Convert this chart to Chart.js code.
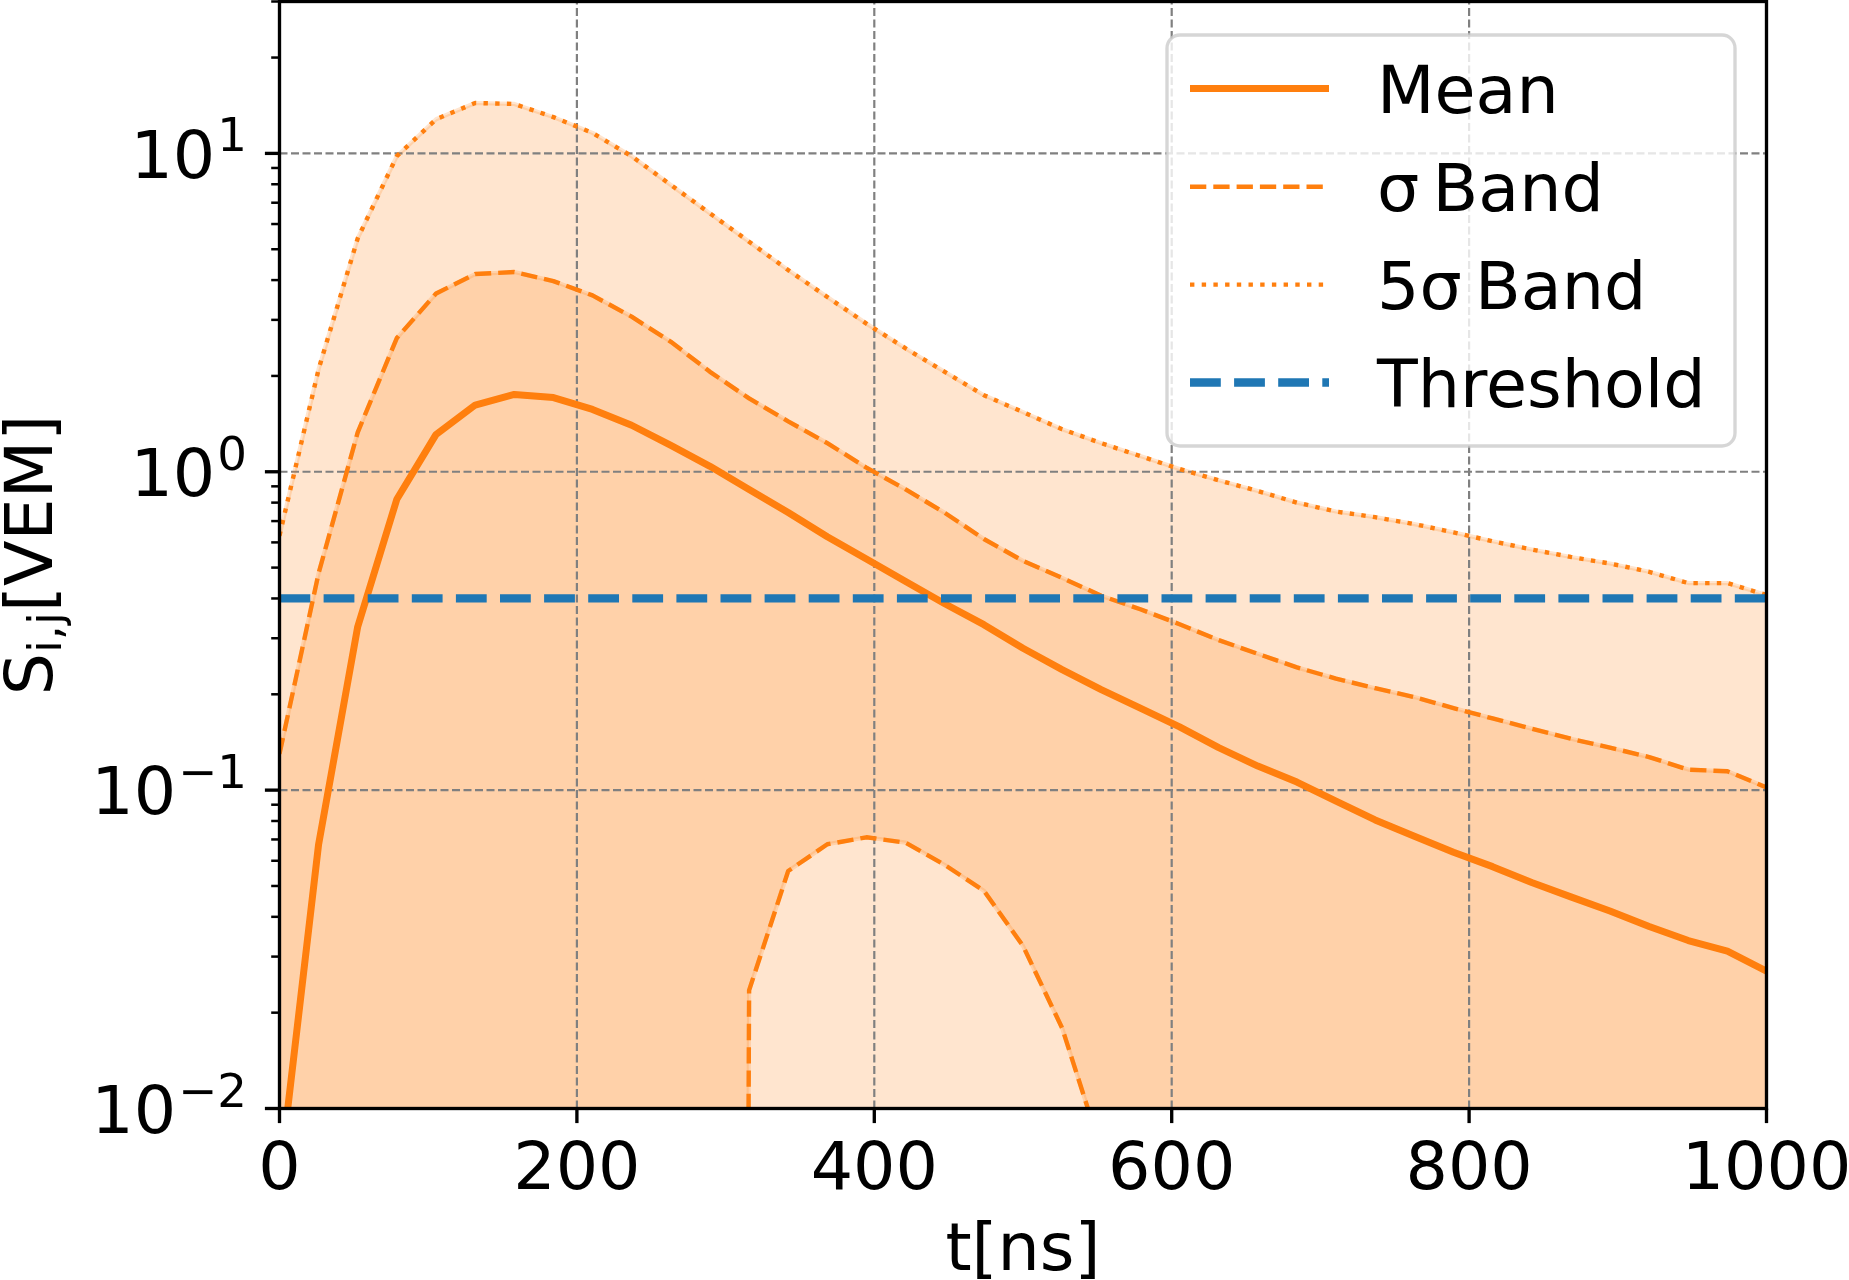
<!DOCTYPE html>
<html>
<head>
<meta charset="utf-8">
<title>Signal trace bands</title>
<script src="https://cdn.jsdelivr.net/npm/chart.js@4.4.1/dist/chart.umd.min.js"></script>
<style>
  html, body { margin: 0; padding: 0; background: #fff; }
  #wrap { width: 1849px; height: 1280px; }
</style>
</head>
<body>
<div id="wrap"><canvas id="trace" width="1849" height="1280"></canvas></div>
<script>
// DATA
const timeBins = [0, 26.3, 52.6, 78.9, 105.3, 131.6, 157.9, 184.2, 210.5, 236.8,
  263.2, 289.5, 315.8, 342.1, 368.4, 394.7, 421.1, 447.4, 473.7, 500,
  526.3, 552.6, 578.9, 605.3, 631.6, 657.9, 684.2, 710.5, 736.8, 763.2,
  789.5, 815.8, 842.1, 868.4, 894.7, 921.1, 947.4, 973.7, 1000];

const meanSignal = [0.006, 0.0676, 0.326, 0.82, 1.31, 1.62, 1.75, 1.71, 1.57, 1.40,
  1.21, 1.04, 0.88, 0.745, 0.625, 0.532, 0.452, 0.385, 0.331, 0.279,
  0.239, 0.207, 0.181, 0.158, 0.136, 0.119, 0.106, 0.0924, 0.0806, 0.0716,
  0.0638, 0.0575, 0.0513, 0.0462, 0.0417, 0.0373, 0.0337, 0.0312, 0.027];

const sigmaUpper = [0.13, 0.48, 1.33, 2.63, 3.63, 4.18, 4.24, 3.97, 3.58, 3.07,
  2.56, 2.06, 1.70, 1.44, 1.23, 1.03, 0.88, 0.743, 0.615, 0.525,
  0.464, 0.408, 0.37, 0.332, 0.296, 0.268, 0.243, 0.224, 0.209, 0.196,
  0.181, 0.168, 0.156, 0.145, 0.136, 0.127, 0.116, 0.1146, 0.102];

// null = mean - sigma is not positive (can't be shown on the log axis)
const sigmaLower = [null, null, null, null, null, null, null, null, null, null,
  null, null, 0.0235, 0.0557, 0.0676, 0.0711, 0.0684, 0.0582, 0.0483, 0.0324,
  0.0179, 0.0074, null, null, null, null, null, null, null, null,
  null, null, null, null, null, null, null, null, null];

const fiveSigmaUpper = [0.63, 2.1, 5.41, 9.8, 12.8, 14.4, 14.3, 13.0, 11.6, 9.8,
  7.96, 6.48, 5.28, 4.30, 3.54, 2.92, 2.44, 2.06, 1.74, 1.54,
  1.36, 1.23, 1.12, 1.02, 0.94, 0.87, 0.80, 0.75, 0.72, 0.685,
  0.645, 0.605, 0.57, 0.54, 0.515, 0.485, 0.447, 0.447, 0.41];

const threshold = 0.4;

// TICKS
const xTicks = [0, 200, 400, 600, 800, 1000];
const yDecades = [-2, -1, 0, 1];
const yMinorMantissas = [2, 3, 4, 5, 6, 7, 8, 9];
const yMin = 0.01;
const yMax = 30;

// STYLE
const ORANGE = '#ff7f0e';
const BLUE = '#1f77b4';
const BAND = 'rgba(255, 127, 14, 0.2)';
const FONT = '"DejaVu Sans", "Liberation Sans", sans-serif';
const FS = 66.7;
const SUB = FS * 0.7;
const CLIPPED = 1e-30; // like matplotlib: non-positive values drop off the bottom

const toPoints = ys => timeBins.map((t, i) => ({ x: t, y: ys[i] === null ? CLIPPED : ys[i] }));

const lineBase = { pointRadius: 0, tension: 0, clip: 0, borderJoinStyle: 'round', fill: false };

const datasets = [
  { ...lineBase, label: 'Threshold', data: timeBins.map(t => ({ x: t, y: threshold })),
    borderColor: BLUE, borderWidth: 8.3, borderDash: [30.8, 13.3] },
  { ...lineBase, label: 'Mean', data: toPoints(meanSignal),
    borderColor: ORANGE, borderWidth: 7 },
  { ...lineBase, label: 'σ\u2009Band', data: toPoints(sigmaUpper),
    borderColor: ORANGE, borderWidth: 4.4, borderDash: [16.3, 7],
    fill: 3, backgroundColor: BAND },
  { ...lineBase, label: 'σ lower', data: toPoints(sigmaLower),
    borderColor: ORANGE, borderWidth: 4.4, borderDash: [16.3, 7] },
  { ...lineBase, label: '5σ\u2009Band', data: toPoints(fiveSigmaUpper),
    borderColor: ORANGE, borderWidth: 4.4, borderDash: [4.4, 7.3],
    fill: 'start', backgroundColor: BAND },
  // pale edges of the filled bands
  { ...lineBase, label: 'edge1', data: toPoints(sigmaUpper), borderColor: BAND, borderWidth: 4.2 },
  { ...lineBase, label: 'edge2', data: toPoints(sigmaLower), borderColor: BAND, borderWidth: 4.2 },
  { ...lineBase, label: 'edge3', data: toPoints(fiveSigmaUpper), borderColor: BAND, borderWidth: 4.2 }
];

const legendOrder = [1, 2, 4, 0];

function strokeLine(ctx, x1, y1, x2, y2) {
  ctx.beginPath();
  ctx.moveTo(x1, y1);
  ctx.lineTo(x2, y2);
  ctx.stroke();
}

// GRID, AXES, LABELS, LEGEND
const axesDecor = {
  id: 'axesDecor',
  beforeDatasetsDraw(chart) {
    const { ctx, chartArea: a, scales: { x, y } } = chart;
    ctx.save();
    ctx.strokeStyle = '#808080';
    ctx.lineWidth = 2.2;
    ctx.setLineDash([8, 3.5]);
    xTicks.forEach(t => {
      const px = x.getPixelForValue(t);
      strokeLine(ctx, px, a.bottom, px, a.top);
    });
    yDecades.forEach(e => {
      const py = y.getPixelForValue(Math.pow(10, e));
      strokeLine(ctx, a.left, py, a.right, py);
    });
    ctx.restore();
  },
  afterDatasetsDraw(chart) {
    const { ctx, chartArea: a, scales: { x, y } } = chart;
    ctx.save();
    ctx.setLineDash([]);
    ctx.strokeStyle = '#000';
    ctx.fillStyle = '#000';

    // ticks
    ctx.lineWidth = 3.33;
    xTicks.forEach(t => {
      const px = x.getPixelForValue(t);
      strokeLine(ctx, px, a.bottom, px, a.bottom + 14.6);
    });
    yDecades.forEach(e => {
      const py = y.getPixelForValue(Math.pow(10, e));
      strokeLine(ctx, a.left, py, a.left - 14.6, py);
    });
    ctx.lineWidth = 2.5;
    yDecades.forEach(e => {
      yMinorMantissas.forEach(m => {
        const v = m * Math.pow(10, e);
        if (v > yMax + 1e-9) return;
        const py = y.getPixelForValue(v);
        strokeLine(ctx, a.left, py, a.left - 8.3, py);
      });
    });

    // frame
    ctx.lineWidth = 3.33;
    ctx.strokeRect(a.left, a.top, a.right - a.left, a.bottom - a.top);

    // x tick labels
    ctx.font = `${FS}px ${FONT}`;
    ctx.textAlign = 'center';
    ctx.textBaseline = 'alphabetic';
    xTicks.forEach(t => ctx.fillText(String(t), x.getPixelForValue(t), 1189));

    // y tick labels 10^e
    ctx.textAlign = 'left';
    yDecades.forEach(e => {
      const py = y.getPixelForValue(Math.pow(10, e));
      const expText = e < 0 ? '\u2212' + (-e) : String(e);
      ctx.font = `${SUB}px ${FONT}`;
      const wExp = ctx.measureText(expText).width;
      ctx.font = `${FS}px ${FONT}`;
      const wBase = ctx.measureText('10').width;
      const right = a.left - 32.5;
      ctx.fillText('10', right - wExp - wBase - 2, py + 24.3);
      ctx.font = `${SUB}px ${FONT}`;
      ctx.fillText(expText, right - wExp, py - 2);
    });

    // axis titles
    ctx.font = `${FS}px ${FONT}`;
    ctx.textAlign = 'center';
    ctx.fillText('t[ns]', (a.left + a.right) / 2, 1270);

    ctx.save();
    ctx.translate(52, (a.top + a.bottom) / 2);
    ctx.rotate(-Math.PI / 2);
    ctx.textAlign = 'left';
    ctx.font = `${FS}px ${FONT}`;
    const wS = ctx.measureText('S').width;
    const wTail = ctx.measureText('[VEM]').width;
    ctx.font = `${SUB}px ${FONT}`;
    const wSub = ctx.measureText('i,j').width;
    let u = -(wS + wSub + wTail) / 2;
    ctx.font = `${FS}px ${FONT}`;
    ctx.fillText('S', u, 0);
    u += wS;
    ctx.font = `${SUB}px ${FONT}`;
    ctx.fillText('i,j', u, 9);
    u += wSub;
    ctx.font = `${FS}px ${FONT}`;
    ctx.fillText('[VEM]', u, 0);
    ctx.restore();
    ctx.restore();
  },
  afterDraw(chart) {
    const { ctx } = chart;
    ctx.save();
    // legend frame
    ctx.beginPath();
    ctx.roundRect(1167, 35, 568, 411, 13);
    ctx.fillStyle = 'rgba(255, 255, 255, 0.8)';
    ctx.fill();
    ctx.lineWidth = 3.33;
    ctx.strokeStyle = 'rgba(204, 204, 204, 0.8)';
    ctx.stroke();

    const rows = [88.6, 186.8, 284.6, 382.5];
    legendOrder.forEach((di, r) => {
      const ds = chart.data.datasets[di];
      const cy = rows[r];
      ctx.strokeStyle = ds.borderColor;
      ctx.lineWidth = ds.borderWidth;
      ctx.setLineDash(ds.borderDash || []);
      ctx.lineCap = 'butt';
      strokeLine(ctx, 1190, cy, 1329, cy);
      ctx.setLineDash([]);
      ctx.fillStyle = '#000';
      ctx.font = `${FS}px ${FONT}`;
      ctx.textAlign = 'left';
      ctx.textBaseline = 'alphabetic';
      ctx.fillText(ds.label, 1377, cy + 24.3);
    });
    ctx.restore();
  }
};

new Chart(document.getElementById('trace'), {
  type: 'line',
  data: { datasets },
  options: {
    responsive: false,
    animation: false,
    events: [],
    layout: {
      autoPadding: false,
      padding: { left: 279.5, right: 82.5, top: 1.5, bottom: 171.5 }
    },
    scales: {
      x: { type: 'linear', min: 0, max: 1000, display: false },
      y: { type: 'logarithmic', min: yMin, max: yMax, display: false }
    },
    plugins: {
      legend: { display: false },
      tooltip: { enabled: false },
      filler: { drawTime: 'beforeDatasetsDraw' }
    }
  },
  plugins: [axesDecor]
});
</script>
</body>
</html>
